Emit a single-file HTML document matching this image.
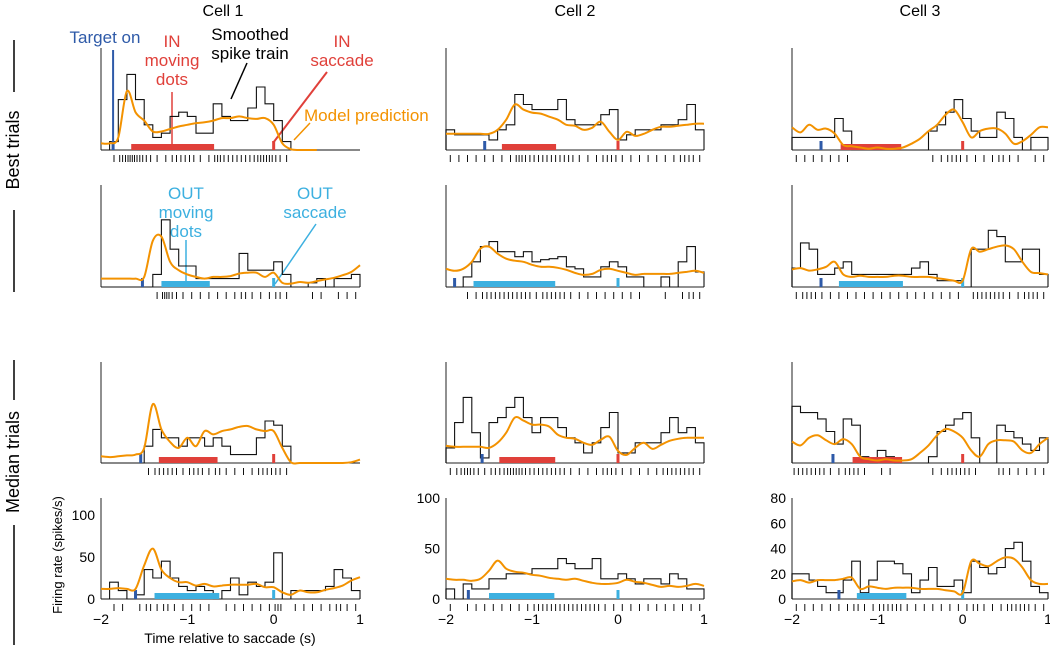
<!DOCTYPE html>
<html><head><meta charset="utf-8">
<style>
html,body{margin:0;padding:0;background:#fff;}
svg{display:block;font-family:"Liberation Sans",Arial,sans-serif;}
</style></head>
<body>
<svg id="fig" width="1050" height="649" viewBox="0 0 1050 649" xmlns="http://www.w3.org/2000/svg">
<g id="static">
<text x="223" y="16" text-anchor="middle" font-size="16">Cell 1</text>
<text x="575" y="16" text-anchor="middle" font-size="16">Cell 2</text>
<text x="920" y="16" text-anchor="middle" font-size="16">Cell 3</text>
<g>
<line x1="14" y1="40" x2="14" y2="92" stroke="#000" stroke-width="1.5"/>
<text transform="translate(19,150) rotate(-90)" text-anchor="middle" font-size="18">Best trials</text>
<line x1="14" y1="210" x2="14" y2="292" stroke="#000" stroke-width="1.5"/>
</g>
<g>
<line x1="14" y1="360" x2="14" y2="400" stroke="#000" stroke-width="1.5"/>
<text transform="translate(19,462) rotate(-90)" text-anchor="middle" font-size="18">Median trials</text>
<line x1="14" y1="525" x2="14" y2="645" stroke="#000" stroke-width="1.5"/>
</g>
<text transform="translate(62,555) rotate(-90)" text-anchor="middle" font-size="13">Firing rate (spikes/s)</text>
<text x="230" y="643" text-anchor="middle" font-size="14">Time relative to saccade (s)</text>
<!-- annotations -->
<text x="105" y="43" text-anchor="middle" font-size="17" fill="#2e5aa8">Target on</text>
<g fill="#e0403a" font-size="17" text-anchor="middle">
<text x="172" y="47">IN</text><text x="172" y="66">moving</text><text x="172" y="85">dots</text></g>
<line x1="172" y1="92" x2="172" y2="146" stroke="#e0403a" stroke-width="1.5"/>
<g fill="#000" font-size="17" text-anchor="middle">
<text x="250" y="40">Smoothed</text><text x="250" y="59">spike train</text></g>
<line x1="247" y1="63" x2="231" y2="99" stroke="#000" stroke-width="1.5"/>
<g fill="#e0403a" font-size="17" text-anchor="middle">
<text x="342" y="47">IN</text><text x="342" y="66">saccade</text></g>
<line x1="327" y1="72" x2="273" y2="143" stroke="#e0403a" stroke-width="2"/>
<text x="304" y="121" font-size="17" fill="#f39200">Model prediction</text>
<line x1="310" y1="123" x2="294" y2="140" stroke="#f39200" stroke-width="1.5"/>
<g fill="#3cb0e0" font-size="17" text-anchor="middle">
<text x="186" y="199">OUT</text><text x="186" y="218">moving</text><text x="186" y="237">dots</text></g>
<line x1="186" y1="240" x2="186" y2="282" stroke="#3cb0e0" stroke-width="1.5"/>
<g fill="#3cb0e0" font-size="17" text-anchor="middle">
<text x="315" y="199">OUT</text><text x="315" y="218">saccade</text></g>
<line x1="316" y1="224" x2="275" y2="284" stroke="#3cb0e0" stroke-width="1.5"/>
</g>
<g id="panels"></g>
</svg>
<script>
// bin starts: -2.0 .. 0.9 step 0.1 (30 bins); smooth samples at -2.0 .. 1.0 step 0.1 (31 points)
const histBestIn1  = [0,10,60,90,60,30,15,20,40,45,40,20,20,55,40,35,35,50,75,55,35,10,0,0,0,0,0,0,0,0];
const smoothBestIn1= [8,8,15,70,45,35,22,22,25,28,30,32,33,35,38,38,40,38,37,38,30,8,1,0,0,0,null,null,null,null,null];
const histBestIn2  = [20,15,15,15,15,10,20,25,55,45,40,40,40,50,30,25,25,25,35,40,10,15,20,20,20,25,25,30,45,20];
const smoothBestIn2= [16,16,16,16,16,16,20,30,45,40,37,36,33,30,25,24,20,22,28,18,10,18,14,16,20,23,23,24,25,26,26];
const histBestIn3  = [10,10,10,10,10,25,15,0,0,0,0,0,0,0,0,0,15,20,30,40,25,15,10,10,30,25,10,0,10,10];
const smoothBestIn3= [18,14,20,16,17,13,4,3,2,1,2,1,1,2,5,9,15,20,28,32,22,10,15,17,17,13,5,7,12,18,18];
const histBestOut1 = [0,0,0,0,0,0,15,80,45,25,25,10,10,10,10,10,40,20,20,20,30,15,0,0,5,10,0,10,10,15];
const smoothBestOut1=[10,10,10,10,10,12,55,60,30,20,15,12,10,12,12,13,16,17,17,12,17,5,4,6,5,7,9,11,14,18,26];
const histBestOut2 = [0,0,10,25,40,45,35,35,30,35,25,27,28,30,20,18,10,10,20,25,20,10,10,0,0,10,0,25,40,15];
const smoothBestOut2=[18,16,18,25,38,40,33,28,26,25,22,20,20,19,17,14,12,13,17,18,16,14,12,13,13,13,13,14,15,16,14];
const histBestOut3 = [15,35,30,10,10,15,20,10,10,10,10,10,10,10,15,20,10,5,5,5,0,30,30,45,40,20,20,30,30,10];
const smoothBestOut3=[14,15,13,14,16,20,10,8,9,8,8,8,9,9,8,8,8,7,6,5,5,30,28,30,32,33,30,20,12,11,10];
const histMedIn1   = [0,0,0,0,0,20,40,30,30,20,30,30,20,30,20,10,10,10,30,50,45,20,0,0,0,0,0,0,0,0];
const smoothMedIn1 = [8,7,8,9,10,18,70,40,25,18,30,20,38,34,38,40,43,44,40,38,38,18,1,0,0,0,0,0,0,1,4];
const histMedIn2   = [15,40,65,30,5,40,45,55,65,45,30,45,45,35,25,20,10,20,35,50,10,10,20,20,20,30,45,30,35,20];
const smoothMedIn2 = [17,16,16,16,16,15,20,30,45,42,38,38,36,28,25,24,20,18,23,26,12,8,15,20,14,18,22,24,25,25,25];
const histMedIn3   = [45,40,40,35,25,15,35,30,5,0,10,5,0,0,0,0,5,25,30,35,40,20,0,0,30,25,20,15,10,20];
const smoothMedIn3 = [17,14,20,22,18,15,19,15,5,3,2,3,2,2,3,8,14,22,27,25,20,10,5,15,18,18,17,10,8,15,20];
const histMedOut1  = [0,20,10,0,5,35,25,45,25,15,10,15,10,0,10,25,5,20,15,20,55,0,10,10,10,10,15,35,25,10];
const smoothMedOut1= [12,12,13,12,12,40,60,35,25,20,20,16,18,15,16,17,17,17,18,14,14,8,5,10,8,8,11,13,16,22,26];
const histMedOut2  = [10,0,15,10,10,20,20,25,25,25,30,30,30,40,35,30,30,40,20,20,25,20,15,20,20,15,25,20,10,10];
const smoothMedOut2= [20,19,19,18,20,28,38,30,27,26,24,23,21,20,19,20,18,16,15,15,16,19,17,16,14,12,13,12,13,15,13];
const histMedOut3  = [20,20,15,10,5,5,15,30,5,15,30,30,28,20,5,15,25,10,10,15,5,30,25,20,25,40,45,30,10,5];
const smoothMedOut3= [14,15,13,15,15,15,16,17,8,10,9,8,9,9,9,8,8,8,7,6,5,30,28,26,30,33,32,25,15,12,12];
// event times (s): target onset, moving dots start/end, saccade
const targetOn  = [-1.86,-1.55,-1.66, -1.52,-1.90,-1.66, -1.54,-1.58,-1.52, -1.60,-1.74,-1.45];
const dotsStart = [-1.65,-1.35,-1.43, -1.30,-1.68,-1.45, -1.33,-1.38,-1.29, -1.38,-1.50,-1.24];
const dotsEnd   = [-0.69,-0.72,-0.72, -0.74,-0.73,-0.70, -0.65,-0.73,-0.71, -0.63,-0.74,-0.66];
const saccadeT  = [0,0,0, 0,0,0, 0,0,0, 0,0,0];
const xTicks = [-2,-1,0,1];
const yTicks1 = [0,50,100];
const yTicks2 = [0,50,100];
const yTicks3 = [0,20,40,60,80];

const hists = [histBestIn1,histBestIn2,histBestIn3,histBestOut1,histBestOut2,histBestOut3,histMedIn1,histMedIn2,histMedIn3,histMedOut1,histMedOut2,histMedOut3];
const smooths = [smoothBestIn1,smoothBestIn2,smoothBestIn3,smoothBestOut1,smoothBestOut2,smoothBestOut3,smoothMedIn1,smoothMedIn2,smoothMedIn3,smoothMedOut1,smoothMedOut2,smoothMedOut3];
const cols = [{x0:101,x1:360,k:0.84},{x0:446,x1:704,k:1.01},{x0:792,x1:1048,k:1.26}];
const rows = [{base:150,top:48,ev:'in'},{base:287,top:185,ev:'out'},{base:463,top:362,ev:'in'},{base:599,top:498,ev:'out'}];
const NS='http://www.w3.org/2000/svg';
const root=document.getElementById('panels');
function mk(tag,attrs,parent){const e=document.createElementNS(NS,tag);for(const a in attrs)e.setAttribute(a,attrs[a]);(parent||root).appendChild(e);return e;}

for(let r=0;r<4;r++){for(let c=0;c<3;c++){
  const idx=r*3+c, col=cols[c], row=rows[r];
  const X=t=>col.x0+(t+2)/3*(col.x1-col.x0);
  const Y=v=>row.base-v*col.k;
  const g=mk('g',{});
  
  
  const ax=mk('line',{x1:col.x0,y1:row.top,x2:col.x0,y2:row.base,stroke:'#555','stroke-width':1.3},g);
  
  
  const bl=mk('line',{x1:col.x0,y1:row.base,x2:col.x1,y2:row.base,stroke:'#222','stroke-width':1},g);
  
  
  const h=hists[idx]; let d='M'+X(-2)+','+row.base;
  h.forEach((v,i)=>{const t=-2+i*0.1;d+=' L'+X(t).toFixed(1)+','+Y(v).toFixed(1)+' L'+X(t+0.1).toFixed(1)+','+Y(v).toFixed(1);});
  d+=' L'+X(1)+','+row.base;
  const hp=mk('path',{d:d,fill:'none',stroke:'#111','stroke-width':1.1},g);
  
  
  // raster ticks (sparser)
  h.forEach((v,i)=>{const n=Math.ceil(v/25);for(let j=0;j<n;j++){const t=-2+i*0.1+(j+0.5)*0.1/n;
    const tk=mk('line',{x1:X(t).toFixed(1),y1:row.base+5,x2:X(t).toFixed(1),y2:row.base+12,stroke:'#111','stroke-width':1},g);
    
    }});
  const colr=row.ev==='in'?'#e0403a':'#3cb0e0';
  const tb=mk('rect',{x:X(targetOn[idx])-1.5,y:row.base-9,width:3,height:9,fill:'#2e5aa8'},g);
  
  
  if(idx===0){const tl=mk('line',{x1:X(targetOn[idx]),y1:50,x2:X(targetOn[idx]),y2:row.base,stroke:'#2e5aa8','stroke-width':2},g);
    
    }
  const db=mk('rect',{x:X(dotsStart[idx]),y:row.base-6,width:X(dotsEnd[idx])-X(dotsStart[idx]),height:6,fill:colr},g);
  
  
  const sb=mk('rect',{x:X(saccadeT[idx])-1.5,y:row.base-9,width:3,height:9,fill:colr},g);
  
  
  const s=smooths[idx]; const pts=[];
  s.forEach((v,i)=>{if(v!==null)pts.push([X(-2+i*0.1),Y(v)]);});
  let sd='M'+pts[0][0].toFixed(1)+','+pts[0][1].toFixed(1);
  for(let i=0;i<pts.length-1;i++){const p0=pts[i-1]||pts[i],p1=pts[i],p2=pts[i+1],p3=pts[i+2]||p2;
    const c1=[p1[0]+(p2[0]-p0[0])/6,p1[1]+(p2[1]-p0[1])/6],c2=[p2[0]-(p3[0]-p1[0])/6,p2[1]-(p3[1]-p1[1])/6];
    sd+=' C'+c1[0].toFixed(1)+','+c1[1].toFixed(1)+' '+c2[0].toFixed(1)+','+c2[1].toFixed(1)+' '+p2[0].toFixed(1)+','+p2[1].toFixed(1);}
  const sp=mk('path',{d:sd,fill:'none',stroke:'#f39200','stroke-width':2},g);
  
  
  if(r===3){
    xTicks.forEach(t=>{const tx=mk('text',{x:X(t),y:624,'text-anchor':'middle','font-size':14},g);tx.textContent=(t<0?'\u2212'+(-t):t);
      
      });
    const yt=[yTicks1,yTicks2,yTicks3][c];
    yt.forEach(v=>{const ty=mk('text',{x:col.x0-6,y:Y(v)+5,'text-anchor':'end','font-size':14},g);ty.textContent=v;
      
      });
  }
}}
</script>
</body></html>
